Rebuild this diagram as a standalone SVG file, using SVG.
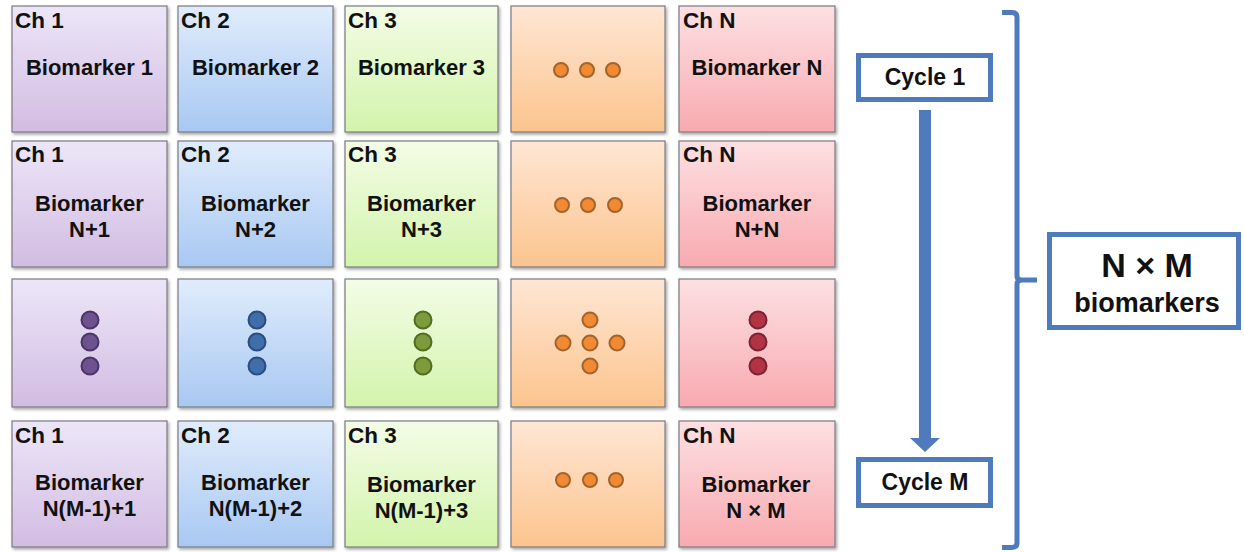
<svg xmlns="http://www.w3.org/2000/svg" width="1244" height="552" viewBox="0 0 1244 552">
<defs>
<linearGradient id="gP" x1="0" y1="0" x2="0" y2="1"><stop offset="0" stop-color="#ece6f8"/><stop offset="1" stop-color="#d2bce2"/></linearGradient>
<linearGradient id="gB" x1="0" y1="0" x2="0" y2="1"><stop offset="0" stop-color="#e0ecfc"/><stop offset="1" stop-color="#a8c8f2"/></linearGradient>
<linearGradient id="gG" x1="0" y1="0" x2="0" y2="1"><stop offset="0" stop-color="#f4fce6"/><stop offset="1" stop-color="#d2f4ac"/></linearGradient>
<linearGradient id="gO" x1="0" y1="0" x2="0" y2="1"><stop offset="0" stop-color="#fee6d4"/><stop offset="1" stop-color="#fcc48e"/></linearGradient>
<linearGradient id="gR" x1="0" y1="0" x2="0" y2="1"><stop offset="0" stop-color="#fde0e2"/><stop offset="1" stop-color="#f8aab0"/></linearGradient>
<filter id="sh" x="-5%" y="-5%" width="115%" height="115%"><feDropShadow dx="1.5" dy="2" stdDeviation="1.5" flood-color="#000" flood-opacity="0.35"/></filter>
</defs>
<style>
.cell{stroke:#7a7a80;stroke-width:1.2;filter:url(#sh)}
.p{fill:url(#gP)}.b{fill:url(#gB)}.g{fill:url(#gG)}.o{fill:url(#gO)}.r{fill:url(#gR)}
text{font-family:"Liberation Sans",Arial,sans-serif;font-weight:bold;fill:#111}
.ch{font-size:22.5px}
.bm{font-size:22px;text-anchor:middle}
.dp{fill:#6e5290;stroke:#4a3468;stroke-width:2}
.db{fill:#3f6eaa;stroke:#2a4c80;stroke-width:2}
.dg{fill:#7c9c3c;stroke:#526c22;stroke-width:2}
.do{fill:#f28a34;stroke:#a2642c;stroke-width:2}
.dr{fill:#b23444;stroke:#7c2232;stroke-width:2}
.cyc{fill:#fff;stroke:#4f7bbd;stroke-width:5}
.cyt{font-size:23px;text-anchor:middle}
.blue{fill:none;stroke:#4f7bbd;stroke-width:5}
</style>
<rect width="1244" height="552" fill="#fff"/>

<!-- Row 1 -->
<g id="r1c1"><rect class="cell p" x="12" y="6" width="155" height="126"/><text class="ch" x="15" y="28">Ch 1</text><text class="bm" x="89.5" y="75">Biomarker 1</text></g>
<g id="r1c2"><rect class="cell b" x="178" y="6" width="155" height="126"/><text class="ch" x="181" y="28">Ch 2</text><text class="bm" x="255.5" y="75">Biomarker 2</text></g>
<g id="r1c3"><rect class="cell g" x="345" y="6" width="153" height="126"/><text class="ch" x="348" y="28">Ch 3</text><text class="bm" x="421.5" y="75">Biomarker  3</text></g>
<g id="r1c4"><rect class="cell o" x="511" y="6" width="154" height="126"/><circle class="do" cx="561" cy="70" r="7"/><circle class="do" cx="587" cy="70" r="7"/><circle class="do" cx="613" cy="70" r="7"/></g>
<g id="r1c5"><rect class="cell r" x="679" y="6" width="156" height="126"/><text class="ch" x="683" y="28">Ch N</text><text class="bm" x="757" y="75">Biomarker N</text></g>

<!-- Row 2 -->
<g id="r2c1"><rect class="cell p" x="12" y="141" width="155" height="126"/><text class="ch" x="15" y="162">Ch 1</text><text class="bm" x="89.5" y="211">Biomarker</text><text class="bm" x="89.5" y="237">N+1</text></g>
<g id="r2c2"><rect class="cell b" x="178" y="141" width="155" height="126"/><text class="ch" x="181" y="162">Ch 2</text><text class="bm" x="255.5" y="211">Biomarker</text><text class="bm" x="255.5" y="237">N+2</text></g>
<g id="r2c3"><rect class="cell g" x="345" y="141" width="153" height="126"/><text class="ch" x="348" y="162">Ch 3</text><text class="bm" x="421.5" y="211">Biomarker</text><text class="bm" x="421.5" y="237">N+3</text></g>
<g id="r2c4"><rect class="cell o" x="511" y="141" width="154" height="126"/><circle class="do" cx="562" cy="205" r="7"/><circle class="do" cx="588" cy="205" r="7"/><circle class="do" cx="615" cy="205" r="7"/></g>
<g id="r2c5"><rect class="cell r" x="679" y="141" width="156" height="126"/><text class="ch" x="683" y="162">Ch N</text><text class="bm" x="757" y="211">Biomarker</text><text class="bm" x="757" y="237">N+N</text></g>

<!-- Row 3 -->
<g id="r3c1"><rect class="cell p" x="12" y="279" width="155" height="128"/><circle class="dp" cx="90" cy="320" r="8.5"/><circle class="dp" cx="90" cy="342" r="8.5"/><circle class="dp" cx="90" cy="366" r="8.5"/></g>
<g id="r3c2"><rect class="cell b" x="178" y="279" width="155" height="128"/><circle class="db" cx="257" cy="320" r="8.5"/><circle class="db" cx="257" cy="342" r="8.5"/><circle class="db" cx="257" cy="366" r="8.5"/></g>
<g id="r3c3"><rect class="cell g" x="345" y="279" width="153" height="128"/><circle class="dg" cx="423" cy="320" r="8.5"/><circle class="dg" cx="423" cy="342" r="8.5"/><circle class="dg" cx="423" cy="366" r="8.5"/></g>
<g id="r3c4"><rect class="cell o" x="511" y="279" width="154" height="128"/><circle class="do" cx="590" cy="320" r="7.5"/><circle class="do" cx="563" cy="343" r="7.5"/><circle class="do" cx="590" cy="343" r="7.5"/><circle class="do" cx="617" cy="343" r="7.5"/><circle class="do" cx="590" cy="366" r="7.5"/></g>
<g id="r3c5"><rect class="cell r" x="679" y="279" width="156" height="128"/><circle class="dr" cx="758" cy="320" r="8.5"/><circle class="dr" cx="758" cy="342" r="8.5"/><circle class="dr" cx="758" cy="366" r="8.5"/></g>

<!-- Row 4 -->
<g id="r4c1"><rect class="cell p" x="12" y="421" width="155" height="126"/><text class="ch" x="15" y="443">Ch 1</text><text class="bm" x="89.5" y="490">Biomarker</text><text class="bm" x="89.5" y="516">N(M-1)+1</text></g>
<g id="r4c2"><rect class="cell b" x="178" y="421" width="155" height="126"/><text class="ch" x="181" y="443">Ch 2</text><text class="bm" x="255.5" y="490">Biomarker</text><text class="bm" x="255.5" y="516">N(M-1)+2</text></g>
<g id="r4c3"><rect class="cell g" x="345" y="421" width="153" height="126"/><text class="ch" x="348" y="443">Ch 3</text><text class="bm" x="421.5" y="492">Biomarker</text><text class="bm" x="421.5" y="518">N(M-1)+3</text></g>
<g id="r4c4"><rect class="cell o" x="511" y="421" width="154" height="126"/><circle class="do" cx="563" cy="480" r="7"/><circle class="do" cx="590" cy="480" r="7"/><circle class="do" cx="616" cy="480" r="7"/></g>
<g id="r4c5"><rect class="cell r" x="679" y="421" width="156" height="126"/><text class="ch" x="683" y="443">Ch N</text><text class="bm" x="756" y="492">Biomarker</text><text class="bm" x="756" y="518">N × M</text></g>

<!-- Cycle boxes -->
<g id="cycle1"><rect class="cyc" x="858.5" y="55.5" width="132" height="44"/><text class="cyt" x="925" y="85">Cycle 1</text></g>
<g id="cycleM"><rect class="cyc" x="858.5" y="459.5" width="132" height="46"/><text class="cyt" x="925" y="490">Cycle M</text></g>

<!-- Total box -->
<g id="total"><rect class="cyc" x="1049.5" y="234.5" width="189" height="93"/><text x="1147" y="277" style="font-size:34px;text-anchor:middle">N × M</text><text x="1147" y="312" style="font-size:27px;text-anchor:middle">biomarkers</text></g>

<!-- Connectors -->
<g id="connectors">
<path d="M919 110 H931 V438 H940 L925 452 L910 438 H919 Z" fill="#4f7bbd"/>
<path class="blue" d="M1002 12.5 H1012 Q1017 12.5 1017 17.5 V276 Q1017 280 1022 280 H1037 M1022 280 Q1017 280 1017 284 V543 Q1017 547.5 1012 547.5 H1002"/>
</g>
</svg>
